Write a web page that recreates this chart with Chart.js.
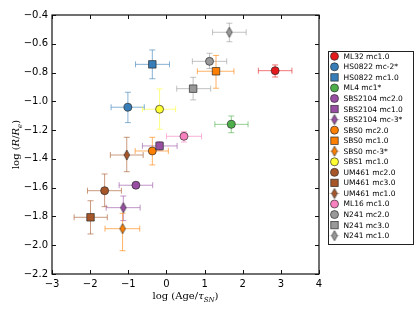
<!DOCTYPE html>
<html>
<head>
<meta charset="utf-8">
<script src="https://cdn.jsdelivr.net/npm/chart.js@4"></script>
<style>
  html, body { margin: 0; padding: 0; background: #fff; }
  #wrap { width: 415px; height: 312px; }
</style>
</head>
<body>
<div id="wrap"><canvas id="c" width="415" height="312"></canvas></div>
<script>
// data
const labels = ['ML32 mc1.0', 'HS0822 mc-2*', 'HS0822 mc1.0', 'ML4 mc1*', 'SBS2104 mc2.0', 'SBS2104 mc1.0',
    'SBS2104 mc-3*', 'SBS0 mc2.0', 'SBS0 mc1.0', 'SBS0 mc-3*', 'SBS1 mc1.0', 'UM461 mc2.0', 'UM461 mc3.0',
    'UM461 mc1.0', 'ML16 mc1.0', 'N241 mc2.0', 'N241 mc3.0', 'N241 mc1.0'];
const logAge = [2.85, -1.01, -0.37, 1.70, -0.80, -0.18, -1.13, -0.37, 1.30, -1.15, -0.18, -1.62, -1.99, -1.04, 0.46, 1.13, 0.70, 1.65];
const logR = [-0.787, -1.041, -0.743, -1.16, -1.583, -1.31, -1.739, -1.345, -0.791, -1.885, -1.055, -1.621, -1.806, -1.373, -1.243, -0.722, -0.912, -0.52];
const ageErrLo = [0.44, 0.44, 0.44, 0.43, 0.44, 0.45, 0.45, 0.45, 0.49, 0.46, 0.45, 0.45, 0.43, 0.43, 0.46, 0.45, 0.43, 0.44];
const ageErrHi = [0.44, 0.43, 0.45, 0.44, 0.44, 0.46, 0.44, 0.42, 0.47, 0.45, 0.42, 0.44, 0.44, 0.43, 0.46, 0.45, 0.46, 0.44];
const rErrLo = [0.044, 0.107, 0.10, 0.058, 0.02, 0.03, 0.09, 0.097, 0.118, 0.153, 0.139, 0.111, 0.116, 0.116, 0.04, 0.05, 0.078, 0.066];
const rErrHi = [0.04, 0.104, 0.10, 0.058, 0.02, 0.03, 0.081, 0.095, 0.11, 0.107, 0.141, 0.116, 0.115, 0.123, 0.032, 0.056, 0.079, 0.063];
const xTicks = [-3, -2, -1, 0, 1, 2, 3, 4];
const yTicks = [-2.2, -2.0, -1.8, -1.6, -1.4, -1.2, -1.0, -0.8, -0.6, -0.4];

// styles
const colors = ['#e41a1c', '#377eb8', '#377eb8', '#4daf4a', '#984ea3', '#984ea3', '#984ea3', '#ff7f00', '#ff7f00',
    '#ff7f00', '#ffff33', '#a65628', '#a65628', '#a65628', '#f781bf', '#999999', '#999999', '#999999'];
const markers = ['o', 'o', 's', 'o', 'o', 's', 'd', 'o', 's', 'd', 'o', 'o', 's', 'd', 'o', 'o', 's', 'd'];
const EDGE = 'rgba(40,40,40,0.85)';

function hexA(hex, a) {
    const n = parseInt(hex.slice(1), 16);
    return `rgba(${(n >> 16) & 255},${(n >> 8) & 255},${n & 255},${a})`;
}

function thinDiamond(color) {
    const cv = document.createElement('canvas');
    cv.width = 8; cv.height = 12;
    const g = cv.getContext('2d');
    g.beginPath();
    g.moveTo(4, 1); g.lineTo(6.8, 6); g.lineTo(4, 11); g.lineTo(1.2, 6); g.closePath();
    g.fillStyle = color; g.fill();
    g.lineWidth = 0.8; g.strokeStyle = EDGE; g.stroke();
    return cv;
}

const datasets = labels.map((lab, i) => {
    const m = markers[i];
    return {
        label: lab,
        data: [{ x: logAge[i], y: logR[i] }],
        pointStyle: m === 'o' ? 'circle' : (m === 's' ? 'rect' : thinDiamond(colors[i])),
        pointRadius: m === 'o' ? 4 : 5.3,
        pointBackgroundColor: colors[i],
        pointBorderColor: EDGE,
        pointBorderWidth: 0.8
    };
});

// error bars drawn through the scales
const errorBars = {
    id: 'errorBars',
    beforeDatasetsDraw(chart) {
        const { ctx, scales: { x, y } } = chart;
        ctx.save();
        ctx.lineWidth = 1;
        labels.forEach((_, i) => {
            const px = x.getPixelForValue(logAge[i]);
            const py = y.getPixelForValue(logR[i]);
            const x0 = x.getPixelForValue(logAge[i] - ageErrLo[i]);
            const x1 = x.getPixelForValue(logAge[i] + ageErrHi[i]);
            const y0 = y.getPixelForValue(logR[i] - rErrLo[i]);
            const y1 = y.getPixelForValue(logR[i] + rErrHi[i]);
            ctx.strokeStyle = hexA(colors[i], 0.6);
            ctx.beginPath();
            ctx.moveTo(x0, py); ctx.lineTo(x1, py);
            ctx.moveTo(px, y0); ctx.lineTo(px, y1);
            // caps
            ctx.moveTo(x0, py - 3); ctx.lineTo(x0, py + 3);
            ctx.moveTo(x1, py - 3); ctx.lineTo(x1, py + 3);
            ctx.moveTo(px - 3, y0); ctx.lineTo(px + 3, y0);
            ctx.moveTo(px - 3, y1); ctx.lineTo(px + 3, y1);
            ctx.stroke();
        });
        ctx.restore();
    }
};

// frame, inward ticks, axis titles and legend
const decorations = {
    id: 'decorations',
    afterDraw(chart) {
        const { ctx, chartArea: a, scales: { x, y } } = chart;
        ctx.save();
        ctx.strokeStyle = '#111';
        ctx.lineWidth = 1.2;
        ctx.strokeRect(a.left, a.top, a.right - a.left, a.bottom - a.top);
        ctx.lineWidth = 1;
        ctx.beginPath();
        xTicks.forEach(t => {
            const px = Math.round(x.getPixelForValue(t)) + 0.5;
            ctx.moveTo(px, a.bottom); ctx.lineTo(px, a.bottom - 4);
            ctx.moveTo(px, a.top); ctx.lineTo(px, a.top + 4);
        });
        yTicks.forEach(t => {
            const py = Math.round(y.getPixelForValue(t)) + 0.5;
            ctx.moveTo(a.left, py); ctx.lineTo(a.left + 4, py);
            ctx.moveTo(a.right, py); ctx.lineTo(a.right - 4, py);
        });
        ctx.stroke();

        // x title: log (Age/τ_SN)
        ctx.fillStyle = '#000';
        ctx.textBaseline = 'alphabetic';
        const f1 = '10px "DejaVu Serif"', fi = 'italic 10px "DejaVu Serif"', fs = 'italic 7px "DejaVu Serif"';
        const xParts = [['log (Age/', f1, 0], ['τ', fi, 0], ['SN', fs, 2.5], [')', f1, 0]];
        let w = 0;
        xParts.forEach(p => { ctx.font = p[1]; w += ctx.measureText(p[0]).width; });
        let cx = (a.left + a.right) / 2 - w / 2;
        xParts.forEach(p => {
            ctx.font = p[1];
            ctx.fillText(p[0], cx, 299 + p[2]);
            cx += ctx.measureText(p[0]).width;
        });

        // y title: log (R/R_e)
        const yParts = [['log (', f1, 0], ['R', fi, 0], ['/', f1, 0], ['R', fi, 0], ['e', fs, 2.5], [')', f1, 0]];
        w = 0;
        yParts.forEach(p => { ctx.font = p[1]; w += ctx.measureText(p[0]).width; });
        ctx.save();
        ctx.translate(19, (a.top + a.bottom) / 2);
        ctx.rotate(-Math.PI / 2);
        cx = -w / 2;
        yParts.forEach(p => {
            ctx.font = p[1];
            ctx.fillText(p[0], cx, 0 + p[2]);
            cx += ctx.measureText(p[0]).width;
        });
        ctx.restore();

        // legend
        const lx = 328, ly = 51, lw = 85, lh = 193;
        ctx.fillStyle = '#fff';
        ctx.fillRect(lx, ly, lw, lh);
        ctx.strokeStyle = '#222';
        ctx.lineWidth = 1;
        ctx.strokeRect(lx + 0.5, ly + 0.5, lw, lh);
        ctx.font = '7.5px "DejaVu Sans"';
        ctx.textBaseline = 'middle';
        labels.forEach((lab, i) => {
            const ry = 56.3 + i * 10.55;
            const mx = 334.5;
            ctx.fillStyle = colors[i];
            ctx.strokeStyle = EDGE;
            ctx.lineWidth = 0.8;
            if (markers[i] === 'o') {
                ctx.beginPath(); ctx.arc(mx, ry, 4, 0, Math.PI * 2);
                ctx.fill(); ctx.stroke();
            } else if (markers[i] === 's') {
                ctx.fillRect(mx - 3.7, ry - 3.7, 7.4, 7.4);
                ctx.strokeRect(mx - 3.7, ry - 3.7, 7.4, 7.4);
            } else {
                // legend shows the diamond with its error-bar cross
                ctx.strokeStyle = hexA(colors[i], 0.6);
                ctx.beginPath();
                ctx.moveTo(mx - 5, ry); ctx.lineTo(mx + 5, ry);
                ctx.stroke();
                ctx.drawImage(thinDiamond(colors[i]), mx - 4, ry - 6);
            }
            ctx.fillStyle = '#000';
            ctx.fillText(lab, 343.5, ry + 0.5);
        });
        ctx.restore();
    }
};

const tickFont = { family: '"DejaVu Sans"', size: 10 };
const minus = v => String(v).replace('-', '\u2212');

new Chart(document.getElementById('c'), {
    type: 'scatter',
    data: { datasets },
    options: {
        responsive: false,
        animation: false,
        devicePixelRatio: 1,
        layout: { padding: { left: 0, top: 15, right: 96, bottom: 0 } },
        plugins: { legend: { display: false }, tooltip: { enabled: false } },
        scales: {
            x: {
                type: 'linear', min: -3, max: 4,
                afterBuildTicks: s => { s.ticks = xTicks.map(v => ({ value: v })); },
                afterFit: s => { s.height = 38; },
                grid: { display: false, drawTicks: false },
                border: { display: false },
                ticks: { color: '#000', font: tickFont, padding: 4, callback: v => minus(v) }
            },
            y: {
                type: 'linear', min: -2.2, max: -0.4,
                afterBuildTicks: s => { s.ticks = yTicks.map(v => ({ value: v })); },
                afterFit: s => { s.width = 52; },
                grid: { display: false, drawTicks: false },
                border: { display: false },
                ticks: { color: '#000', font: tickFont, padding: 4, callback: v => minus(v.toFixed(1)) }
            }
        }
    },
    plugins: [errorBars, decorations]
});
</script>
</body>
</html>
